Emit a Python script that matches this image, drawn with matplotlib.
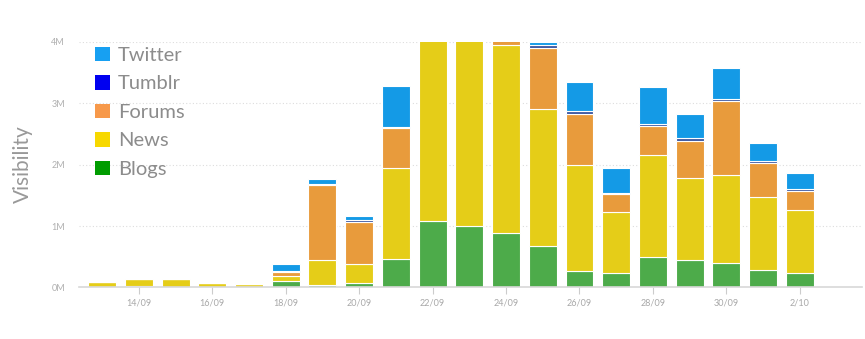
import numpy as np
import matplotlib.pyplot as plt
from matplotlib.patches import Patch

# fechas (13/09 .. 2/10) y valores en millones
fechas = ['13/09', '14/09', '15/09', '16/09', '17/09', '18/09', '19/09', '20/09', '21/09', '22/09',
          '23/09', '24/09', '25/09', '26/09', '27/09', '28/09', '29/09', '30/09', '1/10', '2/10']
blogs = [0.0, 0.02, 0.0, 0.0, 0.0, 0.10, 0.04, 0.08, 0.46, 1.08, 1.00, 0.89, 0.67, 0.27, 0.23, 0.49, 0.44, 0.40, 0.28, 0.23]
news = [0.085, 0.11, 0.14, 0.08, 0.06, 0.09, 0.40, 0.31, 1.49, 2.97, 3.05, 3.05, 2.23, 1.72, 1.00, 1.66, 1.34, 1.43, 1.20, 1.03]
forums = [0, 0, 0, 0, 0, 0.06, 1.22, 0.68, 0.64, 0, 0, 0.08, 1.00, 0.84, 0.29, 0.48, 0.61, 1.20, 0.55, 0.31]
tumblr = [0, 0, 0, 0, 0, 0.01, 0.02, 0.02, 0.02, 0, 0, 0, 0.05, 0.04, 0.01, 0.03, 0.04, 0.03, 0.03, 0.03]
twitter = [0, 0, 0, 0, 0, 0.13, 0.08, 0.08, 0.67, 0, 0, 0, 0.05, 0.47, 0.42, 0.61, 0.39, 0.51, 0.29, 0.27]

series = ['Blogs', 'News', 'Forums', 'Tumblr', 'Twitter']
valores = [blogs, news, forums, tumblr, twitter]
col_barra = ['#4dab4a', '#e5cd18', '#e89b3c', '#3a55a0', '#149ae6']
col_leyenda = ['#009c00', '#f7d800', '#f7994a', '#0000f0', '#17a0f2']

ticks_idx = list(range(1, 20, 2))
tick_labels = [fechas[i] for i in ticks_idx]
y_ticks = [0, 1, 2, 3, 4]
y_labels = ['0M', '1M', '2M', '3M', '4M']

plt.rcParams['font.family'] = ['Lato', 'DejaVu Sans']

fig = plt.figure(figsize=(8.65, 3.39), dpi=100)
ax = fig.add_axes([0.0913, 0.152, 0.9055, 0.725])

x = np.arange(len(fechas))
base = np.zeros(len(fechas))
for nombre, v, c in zip(series, valores, col_barra):
    v = np.array(v)
    ax.bar(x, v, 0.76, bottom=base, color=c, edgecolor='white', linewidth=0.8, zorder=2)
    base = base + v

ax.set_xlim(-0.63, 20.7)
ax.set_ylim(0, 4)
ax.set_yticks(y_ticks)
ax.set_yticklabels(y_labels)
ax.set_xticks(ticks_idx)
ax.set_xticklabels(tick_labels)
ax.grid(axis='y', linestyle=(0, (1, 2)), color='#dddddd', linewidth=0.8, zorder=3)
ax.tick_params(axis='y', length=0, pad=10, labelsize=6.5, labelcolor='#b0b0b0')
ax.tick_params(axis='x', length=5, width=0.8, color='#cccccc', pad=3, labelsize=6.5, labelcolor='#a8a8a8')
for s in ['top', 'right', 'left']:
    ax.spines[s].set_visible(False)
ax.spines['bottom'].set_color('#d8d8d8')
ax.spines['bottom'].set_linewidth(1.2)
ax.set_ylabel('Visibility', fontsize=15, color='#999999', labelpad=13)

handles = [Patch(facecolor=c, edgecolor='none') for c in col_leyenda[::-1]]
leg = ax.legend(handles, series[::-1], loc='upper left', bbox_to_anchor=(0.0, 1.045),
                frameon=False, fontsize=14.5, handlelength=0.72, handleheight=0.72,
                handletextpad=0.42, labelspacing=0.56, borderaxespad=0.3,
                borderpad=0.5)
for t in leg.get_texts():
    t.set_color('#8c8c8c')

fig.savefig('out.png', dpi=100)
